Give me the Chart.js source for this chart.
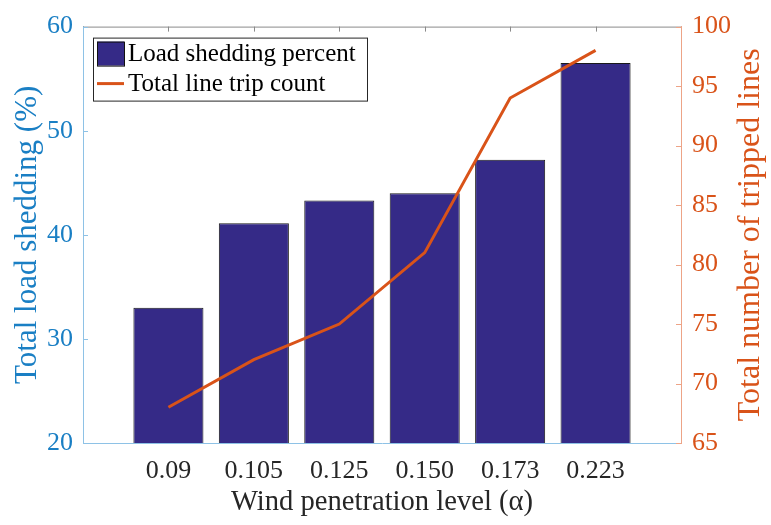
<!DOCTYPE html>
<html>
<head>
<meta charset="utf-8">
<script src="https://cdn.jsdelivr.net/npm/chart.js@4.4.0/dist/chart.umd.min.js"></script>
<style>
    body { margin: 0; background: #fff; }
    #wrap { width: 771px; height: 525px; }
</style>
</head>
<body>
<div id="wrap"><canvas id="windChart" width="771" height="525"></canvas></div>
<script>
// Data
const penetrationLevels = ['0.09', '0.105', '0.125', '0.150', '0.173', '0.223'];
const loadSheddingPercent = [33.0, 41.1, 43.3, 44.0, 47.2, 56.5];
const lineTripCount = [68, 72, 75, 81, 94, 98];

const leftTicks = [20, 30, 40, 50, 60];
const rightTicks = [65, 70, 75, 80, 85, 90, 95, 100];

const blue = '#1a7fc4';
const blueAxis = '#8ec2e6';
const orange = '#d95319';
const orangeAxis = '#eda487';
const navy = '#352a87';
const rightTitle = 'Total number of tripped lines';

Chart.defaults.font.family = '"Liberation Serif", "Times New Roman", serif';

// Draw MATLAB style inward ticks, the top frame line, right title and the legend box
const matlabFrame = {
    id: 'matlabFrame',
    afterDatasetsDraw(chart) {
        const ctx = chart.ctx;
        const area = chart.chartArea;
        const x = chart.scales.x;
        const y = chart.scales.y;
        const y1 = chart.scales.y1;
        ctx.save();
        ctx.lineWidth = 1;

        // top frame + top ticks
        ctx.strokeStyle = '#8a8a8a';
        ctx.beginPath();
        ctx.moveTo(area.left, area.top + 0.5);
        ctx.lineTo(area.right, area.top + 0.5);
        x.ticks.forEach(t => {
            const px = Math.round(x.getPixelForValue(t.value)) + 0.5;
            ctx.moveTo(px, area.top);
            ctx.lineTo(px, area.top + 5);
        });
        ctx.stroke();

        // left ticks
        ctx.strokeStyle = blueAxis;
        ctx.beginPath();
        y.ticks.forEach(t => {
            const py = Math.round(y.getPixelForValue(t.value)) + 0.5;
            ctx.moveTo(area.left, py);
            ctx.lineTo(area.left + 5, py);
        });
        ctx.stroke();

        // right ticks
        ctx.strokeStyle = orangeAxis;
        ctx.beginPath();
        y1.ticks.forEach(t => {
            const py = Math.round(y1.getPixelForValue(t.value)) + 0.5;
            ctx.moveTo(area.right, py);
            ctx.lineTo(area.right - 5, py);
        });
        ctx.stroke();

        // right axis title, reading bottom to top like the left one
        ctx.save();
        ctx.translate(chart.width - 20, (area.top + area.bottom) / 2);
        ctx.rotate(-Math.PI / 2);
        ctx.fillStyle = orange;
        ctx.font = '32px "Liberation Serif"';
        ctx.textAlign = 'center';
        ctx.textBaseline = 'middle';
        ctx.fillText(rightTitle, 0, 0);
        ctx.restore();

        // legend
        const barSet = chart.data.datasets[1];
        const lineSet = chart.data.datasets[0];
        const lx = area.left + 10, ly = area.top + 11;
        ctx.fillStyle = '#fff';
        ctx.fillRect(lx, ly, 274, 63);
        ctx.strokeStyle = '#262626';
        ctx.strokeRect(lx + 0.5, ly + 0.5, 274, 63);

        ctx.fillStyle = navy;
        ctx.fillRect(lx + 4, ly + 4, 27, 24);
        ctx.strokeStyle = '#111';
        ctx.strokeRect(lx + 4.5, ly + 4.5, 27, 24);

        ctx.strokeStyle = orange;
        ctx.lineWidth = 3;
        ctx.beginPath();
        ctx.moveTo(lx + 4, ly + 46);
        ctx.lineTo(lx + 31, ly + 46);
        ctx.stroke();

        ctx.fillStyle = '#000';
        ctx.font = '25px "Liberation Serif"';
        ctx.textBaseline = 'middle';
        ctx.fillText(barSet.label, lx + 35, ly + 17);
        ctx.fillText(lineSet.label, lx + 35, ly + 47);
        ctx.restore();
    }
};

const ctx = document.getElementById('windChart').getContext('2d');

new Chart(ctx, {
    type: 'bar',
    data: {
        datasets: [
            {
                type: 'line',
                label: 'Total line trip count',
                data: lineTripCount.map((v, i) => ({ x: i + 1, y: v })),
                borderColor: orange,
                borderWidth: 3,
                pointRadius: 0,
                tension: 0,
                yAxisID: 'y1',
                order: 1
            },
            {
                type: 'bar',
                label: 'Load shedding percent',
                data: loadSheddingPercent.map((v, i) => ({ x: i + 1, y: v })),
                backgroundColor: navy,
                borderColor: '#1a1a1a',
                borderWidth: 1,
                base: leftTicks[0],
                barPercentage: 0.82,
                categoryPercentage: 1,
                yAxisID: 'y',
                order: 2
            }
        ]
    },
    options: {
        responsive: false,
        animation: false,
        layout: { padding: { top: 20, left: 0, right: 0, bottom: 0 } },
        plugins: {
            legend: { display: false },
            tooltip: { enabled: false }
        },
        scales: {
            x: {
                type: 'linear',
                position: 'bottom',
                offset: false,
                min: 0,
                max: penetrationLevels.length + 1,
                afterBuildTicks: scale => {
                    scale.ticks = penetrationLevels.map((_, i) => ({ value: i + 1 }));
                },
                afterFit: scale => { scale.height = 82; },
                ticks: {
                    color: '#262626',
                    font: { size: 26 },
                    padding: 13,
                    maxRotation: 0,
                    autoSkip: false,
                    callback: v => penetrationLevels[v - 1]
                },
                grid: { display: false, drawTicks: false },
                border: { display: true, color: blueAxis, width: 1 },
                title: {
                    display: true,
                    text: 'Wind penetration level (α)',
                    color: '#262626',
                    font: { size: 28.6 },
                    padding: { top: 0, bottom: 5 }
                }
            },
            y: {
                position: 'left',
                min: leftTicks[0],
                max: leftTicks[leftTicks.length - 1],
                afterBuildTicks: scale => {
                    scale.ticks = leftTicks.map(v => ({ value: v }));
                },
                afterFit: scale => { scale.width = 83; },
                ticks: {
                    color: blue,
                    font: { size: 26 },
                    padding: 10
                },
                grid: { display: false, drawTicks: false },
                border: { display: true, color: blueAxis, width: 1 },
                title: {
                    display: true,
                    text: 'Total load shedding (%)',
                    color: blue,
                    font: { size: 31 },
                    padding: { top: 9, bottom: 0 }
                }
            },
            y1: {
                position: 'right',
                min: rightTicks[0],
                max: rightTicks[rightTicks.length - 1],
                afterBuildTicks: scale => {
                    scale.ticks = rightTicks.map(v => ({ value: v }));
                },
                afterFit: scale => { scale.width = 90; },
                ticks: {
                    color: orange,
                    font: { size: 26 },
                    padding: 11
                },
                grid: { display: false, drawTicks: false },
                border: { display: true, color: orangeAxis, width: 1 }
            }
        }
    },
    plugins: [matlabFrame]
});
</script>
</body>
</html>
